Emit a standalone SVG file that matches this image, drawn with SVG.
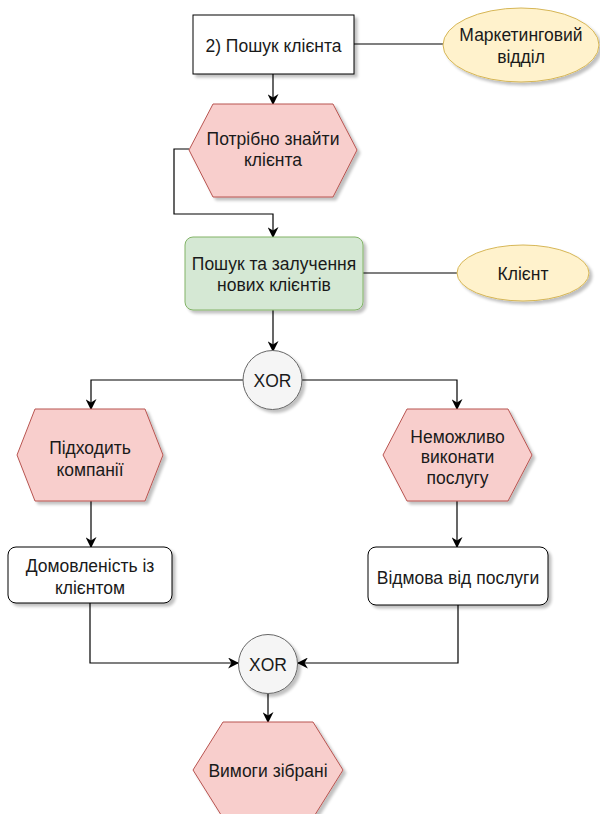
<svg xmlns="http://www.w3.org/2000/svg" width="600" height="814" viewBox="0 0 600 814">
  <style>
    text { font-family: "Liberation Sans", Arial, sans-serif; font-size: 17.5px; fill: #1a1a1a; text-anchor: middle; dominant-baseline: central; }
    .plain { fill: #ffffff; stroke: #000000; stroke-width: 1; }
    .event { fill: #f8cecc; stroke: #b85450; stroke-width: 1; }
    .func { fill: #d5e8d4; stroke: #82b366; stroke-width: 1; }
    .org { fill: #fff2cc; stroke: #d6b656; stroke-width: 1; }
    .gate { fill: #f5f5f5; stroke: #666666; stroke-width: 1; }
    .edge { fill: none; stroke: #000000; stroke-width: 1.2; }
    .shadowed { filter: url(#shadow); }
  </style>
  <defs>
    <filter id="shadow" x="-20%" y="-20%" width="150%" height="150%">
      <feGaussianBlur in="SourceAlpha" stdDeviation="1.5"/>
      <feOffset dx="3" dy="3" result="b"/>
      <feComponentTransfer><feFuncA type="linear" slope="0.25"/></feComponentTransfer>
      <feMerge><feMergeNode/><feMergeNode in="SourceGraphic"/></feMerge>
    </filter>
    <marker id="arrow" viewBox="0 0 10 10" refX="9" refY="5" markerWidth="11" markerHeight="11" markerUnits="userSpaceOnUse" orient="auto">
      <path d="M0,0 L10,5 L0,10 L3,5 Z" fill="#000"/>
    </marker>
  </defs>

  <!-- connectors -->
  <g id="connectors">
    <line class="edge" x1="354" y1="44" x2="443" y2="44"/>
    <line class="edge" x1="273" y1="74" x2="273" y2="104" marker-end="url(#arrow)"/>
    <polyline class="edge" points="189,149 174,149 174,214 273,214 273,237" marker-end="url(#arrow)"/>
    <line class="edge" x1="363" y1="273" x2="457" y2="273"/>
    <line class="edge" x1="273" y1="310" x2="273" y2="351" marker-end="url(#arrow)"/>
    <polyline class="edge" points="243,380 91,380 91,409" marker-end="url(#arrow)"/>
    <polyline class="edge" points="302,380 457,380 457,409" marker-end="url(#arrow)"/>
    <line class="edge" x1="91" y1="501" x2="91" y2="547" marker-end="url(#arrow)"/>
    <line class="edge" x1="457" y1="501" x2="457" y2="547" marker-end="url(#arrow)"/>
    <polyline class="edge" points="90,603 90,663 238,663" marker-end="url(#arrow)"/>
    <polyline class="edge" points="458,605 458,663 298,663" marker-end="url(#arrow)"/>
    <line class="edge" x1="268" y1="694" x2="268" y2="722" marker-end="url(#arrow)"/>
  </g>

  <g id="step-find-client">
    <rect class="plain shadowed" x="193" y="15" width="161" height="59"/>
    <text x="273.5" y="46">2) Пошук клієнта</text>
  </g>

  <g id="marketing-dept">
    <ellipse class="org shadowed" cx="521" cy="45" rx="78" ry="37"/>
    <text x="521" y="35">Маркетинговий</text>
    <text x="521" y="57">відділ</text>
  </g>

  <g id="event-need-client">
    <polygon class="event shadowed" points="213,104 333,104 357,150 333,197 213,197 189,150"/>
    <text x="273" y="139">Потрібно знайти</text>
    <text x="273" y="160">клієнта</text>
  </g>

  <g id="func-attract-clients">
    <rect class="func shadowed" x="185" y="237" width="178" height="73" rx="8" ry="8"/>
    <text x="274" y="264">Пошук та залучення</text>
    <text x="274" y="285">нових клієнтів</text>
  </g>

  <g id="client">
    <ellipse class="org shadowed" cx="523" cy="273" rx="66" ry="28"/>
    <text x="523" y="274">Клієнт</text>
  </g>

  <g id="xor-split">
    <circle class="gate shadowed" cx="272.5" cy="380" r="29.5"/>
    <text x="272.5" y="381">XOR</text>
  </g>

  <g id="event-fits">
    <polygon class="event shadowed" points="35,409 145,409 163,455 145,501 35,501 17,455"/>
    <text x="90" y="448">Підходить</text>
    <text x="90" y="470">компанії</text>
  </g>

  <g id="event-impossible">
    <polygon class="event shadowed" points="407,409 508,409 532,455 508,501 407,501 383,455"/>
    <text x="457.5" y="437">Неможливо</text>
    <text x="457.5" y="457">виконати</text>
    <text x="457.5" y="478">послугу</text>
  </g>

  <g id="agreement">
    <rect class="plain shadowed" x="8" y="547" width="164" height="56" rx="8" ry="8"/>
    <text x="90" y="566">Домовленість із</text>
    <text x="90" y="588">клієнтом</text>
  </g>

  <g id="refusal">
    <rect class="plain shadowed" x="368" y="547" width="180" height="58" rx="8" ry="8"/>
    <text x="458" y="578">Відмова від послуги</text>
  </g>

  <g id="xor-join">
    <circle class="gate shadowed" cx="268" cy="664" r="29.5"/>
    <text x="268" y="665">XOR</text>
  </g>

  <g id="event-requirements">
    <polygon class="event shadowed" points="223,722 313,722 343,770 313,818 223,818 193,770"/>
    <text x="268" y="771">Вимоги зібрані</text>
  </g>
</svg>
